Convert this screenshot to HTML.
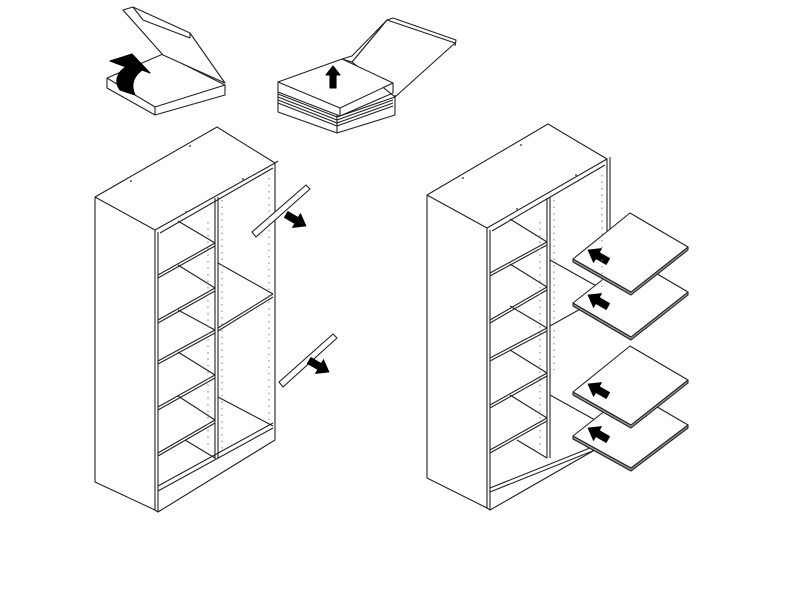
<!DOCTYPE html>
<html><head><meta charset="utf-8"><style>
html,body{margin:0;padding:0;background:#fff;width:800px;height:600px;overflow:hidden}
svg{display:block}
</style></head><body>
<svg width="800" height="600" viewBox="0 0 800 600" xmlns="http://www.w3.org/2000/svg" fill="none" stroke="#222" stroke-width="1.1" stroke-linejoin="round">
<defs>
<path id="arr" d="M0,0 L11,-8 L11,-3.5 L23,-3.5 L23,3.5 L11,3.5 L11,8 Z" fill="#000" stroke="#000" stroke-width="0.8"/>
</defs>
<!-- Left box -->
<polygon points="107,78 163,54 225,85 155,107" fill="#fff"/>
<polyline points="107,78 107,88 155,115 225,95 225,85"/>
<line x1="155" y1="107" x2="155" y2="115"/>
<polygon points="123,10 133,7 190,33 225,83 163,55" fill="#fff"/>
<line x1="133" y1="7" x2="143" y2="20"/><line x1="143" y1="20" x2="190" y2="38"/><line x1="190" y1="33" x2="190" y2="38"/>
<path d="M110,61 L132,54 L150,73 L142,70 C134,76 130,84 135,95 L120,90 C114,82 117,72 126,67 Z" fill="#000" stroke="#000"/>
<!-- Right stack -->
<polygon points="352,62 387,20 455,43 395,97" fill="#fff"/>
<polyline points="387,20 393,18 456,40 455,46"/>
<polygon points="342,59 352,56 387,20 352,62" fill="#fff"/>
<polyline points="278,92 278,112 337,133 395,115 395,95"/>
<line x1="337" y1="115" x2="337" y2="133"/>
<polyline points="278,94 337,117 395,97"/>
<polyline points="278,97 337,120 393,100"/>
<polyline points="278,100 337,123 393,103"/>
<polyline points="278,103 337,126 393,106"/>
<polygon points="278,82 342,59 393,83 340,108" fill="#fff"/>
<polyline points="278,82 278,92 340,116 393,93 393,83"/>
<line x1="340" y1="108" x2="340" y2="116"/>
<path d="M333,66 L326,75 L330,75 L330,88 L336,88 L336,75 L340,75 Z" fill="#000" stroke="#000"/>

<!-- Left cabinet -->
<polygon points="95,197 217,127 275,163 155,230" fill="#fff"/>
<polyline points="95,197 95,482 155,510 155,230"/>
<polyline points="158,232 158,512 275,440 275,163 278,161"/>
<line x1="155" y1="510" x2="158" y2="512"/>
<line x1="158" y1="491" x2="273" y2="428"/>
<line x1="158" y1="486" x2="273" y2="423"/>
<line x1="160" y1="233" x2="273" y2="168"/>
<line x1="215" y1="198" x2="215" y2="459"/><line x1="218" y1="197" x2="218" y2="458"/>
<g>
<polyline points="158,275 215,243"/><polyline points="158,278 215,246"/><line x1="178" y1="221" x2="215" y2="243"/>
<polyline points="158,320 215,288"/><polyline points="158,323 215,291"/><line x1="178" y1="265" x2="215" y2="288"/>
<polyline points="158,361 215,330"/><polyline points="158,364 215,333"/><line x1="178" y1="310" x2="215" y2="330"/>
<polyline points="158,407 215,375"/><polyline points="158,410 215,378"/><line x1="178" y1="352" x2="215" y2="375"/>
<polyline points="158,453 215,420"/><polyline points="158,456 215,423"/><line x1="178" y1="396" x2="215" y2="420"/>
<line x1="185" y1="440" x2="215" y2="458"/>
</g>
<line x1="218" y1="328" x2="273" y2="294"/><line x1="218" y1="331" x2="273" y2="297"/>
<line x1="218" y1="263" x2="273" y2="294"/>
<line x1="218" y1="397" x2="273" y2="426"/>
<!-- rods -->
<polygon points="252,232 306,185 310,189 256,237" fill="#fff"/>
<use href="#arr" transform="translate(306,226) rotate(210)"/>
<polygon points="279,382 333,334 337,338 283,387" fill="#fff"/>
<use href="#arr" transform="translate(329,372) rotate(210)"/>

<!-- Right cabinet -->
<polygon points="427,195 548,124 607,159 487,228" fill="#fff"/>
<polyline points="427,195 427,478 487,508 487,228"/>
<polyline points="490,230 490,510 600,447"/>
<line x1="487" y1="508" x2="490" y2="510"/>
<polyline points="607,159 607,300"/><line x1="610" y1="157" x2="610" y2="300"/>
<line x1="490" y1="492" x2="595" y2="450"/><line x1="490" y1="488" x2="595" y2="446"/>
<line x1="492" y1="231" x2="605" y2="165"/>
<line x1="547" y1="198" x2="547" y2="458"/><line x1="550" y1="197" x2="550" y2="458"/>
<g>
<polyline points="490,273 547,242"/><polyline points="490,276 547,245"/><line x1="510" y1="219" x2="547" y2="242"/>
<polyline points="490,320 547,287"/><polyline points="490,323 547,290"/><line x1="510" y1="264" x2="547" y2="287"/>
<polyline points="490,358 547,328"/><polyline points="490,361 547,331"/><line x1="510" y1="306" x2="547" y2="328"/>
<polyline points="490,405 547,373"/><polyline points="490,408 547,376"/><line x1="510" y1="350" x2="547" y2="373"/>
<polyline points="490,450 547,418"/><polyline points="490,453 547,421"/><line x1="510" y1="395" x2="547" y2="418"/>
<line x1="517" y1="440" x2="547" y2="458"/>
</g>
<line x1="550" y1="260" x2="600" y2="288"/>
<line x1="550" y1="326" x2="600" y2="298"/>
<line x1="550" y1="395" x2="595" y2="420"/>
<!-- boards -->
<g fill="#fff">
<polygon points="573,306 631,340 688,295 688,292 631,337 573,303" fill="#999"/>
<polygon points="573,303 630,258 688,292 631,337"/>
<polygon points="573,262 631,295 688,250 688,247 631,292 573,259" fill="#999"/>
<polygon points="573,259 630,213 688,247 631,292"/>
<polygon points="573,439 631,471 688,428 688,425 631,468 573,436" fill="#999"/>
<polygon points="573,436 630,391 688,425 631,468"/>
<polygon points="573,395 631,428 688,383 688,380 631,425 573,392" fill="#999"/>
<polygon points="573,392 630,346 688,380 631,425"/>
</g>
<use href="#arr" transform="translate(588,250) rotate(30)"/>
<use href="#arr" transform="translate(588,295) rotate(30)"/>
<use href="#arr" transform="translate(588,384) rotate(30)"/>
<use href="#arr" transform="translate(588,428) rotate(30)"/>
<!-- dots -->
<g fill="#555" stroke="none">
<circle cx="190" cy="146" r="1"/><circle cx="131" cy="181" r="1"/><circle cx="243" cy="179" r="1"/><circle cx="186" cy="212" r="1"/>
<circle cx="521" cy="145" r="1"/><circle cx="463" cy="178" r="1"/><circle cx="576" cy="175" r="1"/><circle cx="517" cy="209" r="1"/>
</g>
<g stroke="#888" stroke-dasharray="1.5 5">
<line x1="222" y1="200" x2="222" y2="450"/><line x1="269" y1="178" x2="269" y2="420"/><line x1="208" y1="222" x2="208" y2="450"/>
<line x1="554" y1="200" x2="554" y2="370"/><line x1="602" y1="175" x2="602" y2="290"/><line x1="540" y1="222" x2="540" y2="450"/>
</g>
</svg>
</body></html>
